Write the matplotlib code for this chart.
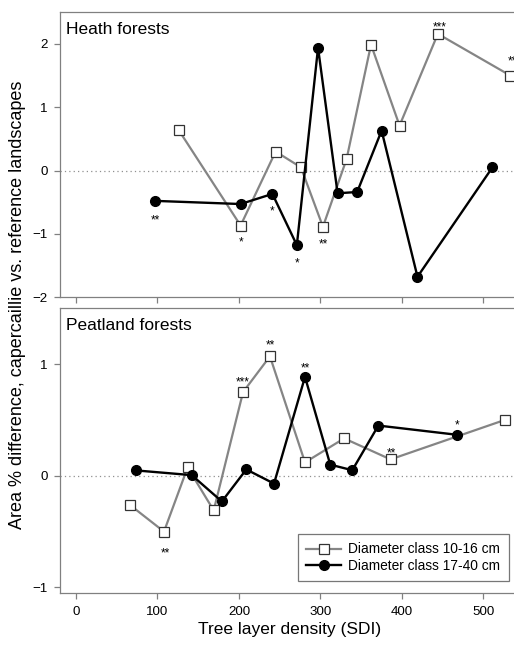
import matplotlib
matplotlib.use("Agg")
import matplotlib.pyplot as plt

plt.rcParams["font.family"] = ["Liberation Sans", "DejaVu Sans"]

# ── Heath forests ───────────────────────────────────────────────────────────
heath_x_small = [126, 202, 245, 276, 303, 332, 362, 397, 444, 533]
heath_y_small = [0.64, -0.87, 0.30, 0.05, -0.89, 0.18, 1.99, 0.71, 2.16, 1.50]
heath_x_large = [97, 202, 241, 271, 297, 321, 345, 375, 419, 511]
heath_y_large = [-0.48, -0.53, -0.37, -1.18, 1.94, -0.36, -0.34, 0.63, -1.68, 0.05]
# significance marks: (x, y, label)
heath_stars = [(98, -0.73, "**"), (202, -1.08, "*"), (240, -0.59, "*"),
               (271, -1.41, "*"), (304, -1.11, "**"), (446, 2.31, "***"),
               (535, 1.78, "**")]

# ── Peatland forests ────────────────────────────────────────────────────────
peat_x_small = [66, 108, 137, 169, 205, 238, 281, 329, 386, 526]
peat_y_small = [-0.26, -0.50, 0.075, -0.31, 0.75, 1.07, 0.12, 0.335, 0.147, 0.50]
peat_x_large = [74, 142, 179, 209, 243, 281, 312, 339, 371, 468]
peat_y_large = [0.048, 0.006, -0.23, 0.057, -0.07, 0.886, 0.10, 0.05, 0.45, 0.367]
peat_stars = [(110, -0.665, "**"), (204, 0.863, "***"), (239, 1.20, "**"),
              (281, 0.997, "**"), (387, 0.23, "**"), (468, 0.483, "*")]

x_ticks = [0, 100, 200, 300, 400, 500]
spine_col = "#808080"

fig = plt.figure(figsize=(5.14, 6.46), dpi=100)
ax1 = fig.add_axes([0.1167, 0.5402, 0.895, 0.4407])
ax2 = fig.add_axes([0.1167, 0.0820, 0.895, 0.4407])


def draw_panel(ax, xs, ys, xl, yl, stars, title, ylim, yticks):
    ax.axhline(0, color="#909090", ls=(0, (1, 2.5)), lw=0.9, zorder=1)
    ax.plot(xs, ys, color="#858585", lw=1.6, marker="s", ms=6.5,
            mfc="white", mec="#333333", mew=0.9, zorder=2,
            label="Diameter class 10-16 cm")
    ax.plot(xl, yl, color="black", lw=1.7, marker="o", ms=7,
            mfc="black", mec="black", zorder=3,
            label="Diameter class 17-40 cm")
    for x, y, s in stars:
        ax.annotate(s, (x, y), xytext=(0, -2.5), textcoords="offset points",
                    ha="center", va="center", fontsize=8.5)
    ax.text(0.013, 0.965, title, transform=ax.transAxes, ha="left", va="top",
            fontsize=12.5)
    ax.set_xlim(-19.6, 544.8)
    ax.set_ylim(*ylim)
    ax.set_yticks(yticks)
    ax.set_xticks(x_ticks)
    for sp in ax.spines.values():
        sp.set_color(spine_col)
        sp.set_linewidth(0.9)
    ax.tick_params(direction="out", color=spine_col, length=4, width=0.9,
                   labelsize=9.6)
    ax.tick_params(axis="y", pad=5)
    ax.tick_params(axis="x", pad=5)


draw_panel(ax1, heath_x_small, heath_y_small, heath_x_large, heath_y_large,
           heath_stars, "Heath forests", (-2, 2.5), [-2, -1, 0, 1, 2])
draw_panel(ax2, peat_x_small, peat_y_small, peat_x_large, peat_y_large,
           peat_stars, "Peatland forests", (-1.05, 1.5), [-1, 0, 1])

ax1.tick_params(labelbottom=False)
ax2.set_xlabel("Tree layer density (SDI)", fontsize=12.5, labelpad=3)

leg = ax2.legend(loc="lower left", bbox_to_anchor=(0.517, 0.042),
                 fontsize=9.9, frameon=True, fancybox=False,
                 handlelength=2.55, handletextpad=0.5, borderpad=0.62,
                 labelspacing=0.16, borderaxespad=0)
leg.get_frame().set_edgecolor("#555555")
leg.get_frame().set_linewidth(0.9)

fig.text(0.035, 0.528, "Area % difference, capercaillie vs. reference landscapes",
         rotation=90, ha="center", va="center", fontsize=13)

fig.savefig("out.png", dpi=100)
